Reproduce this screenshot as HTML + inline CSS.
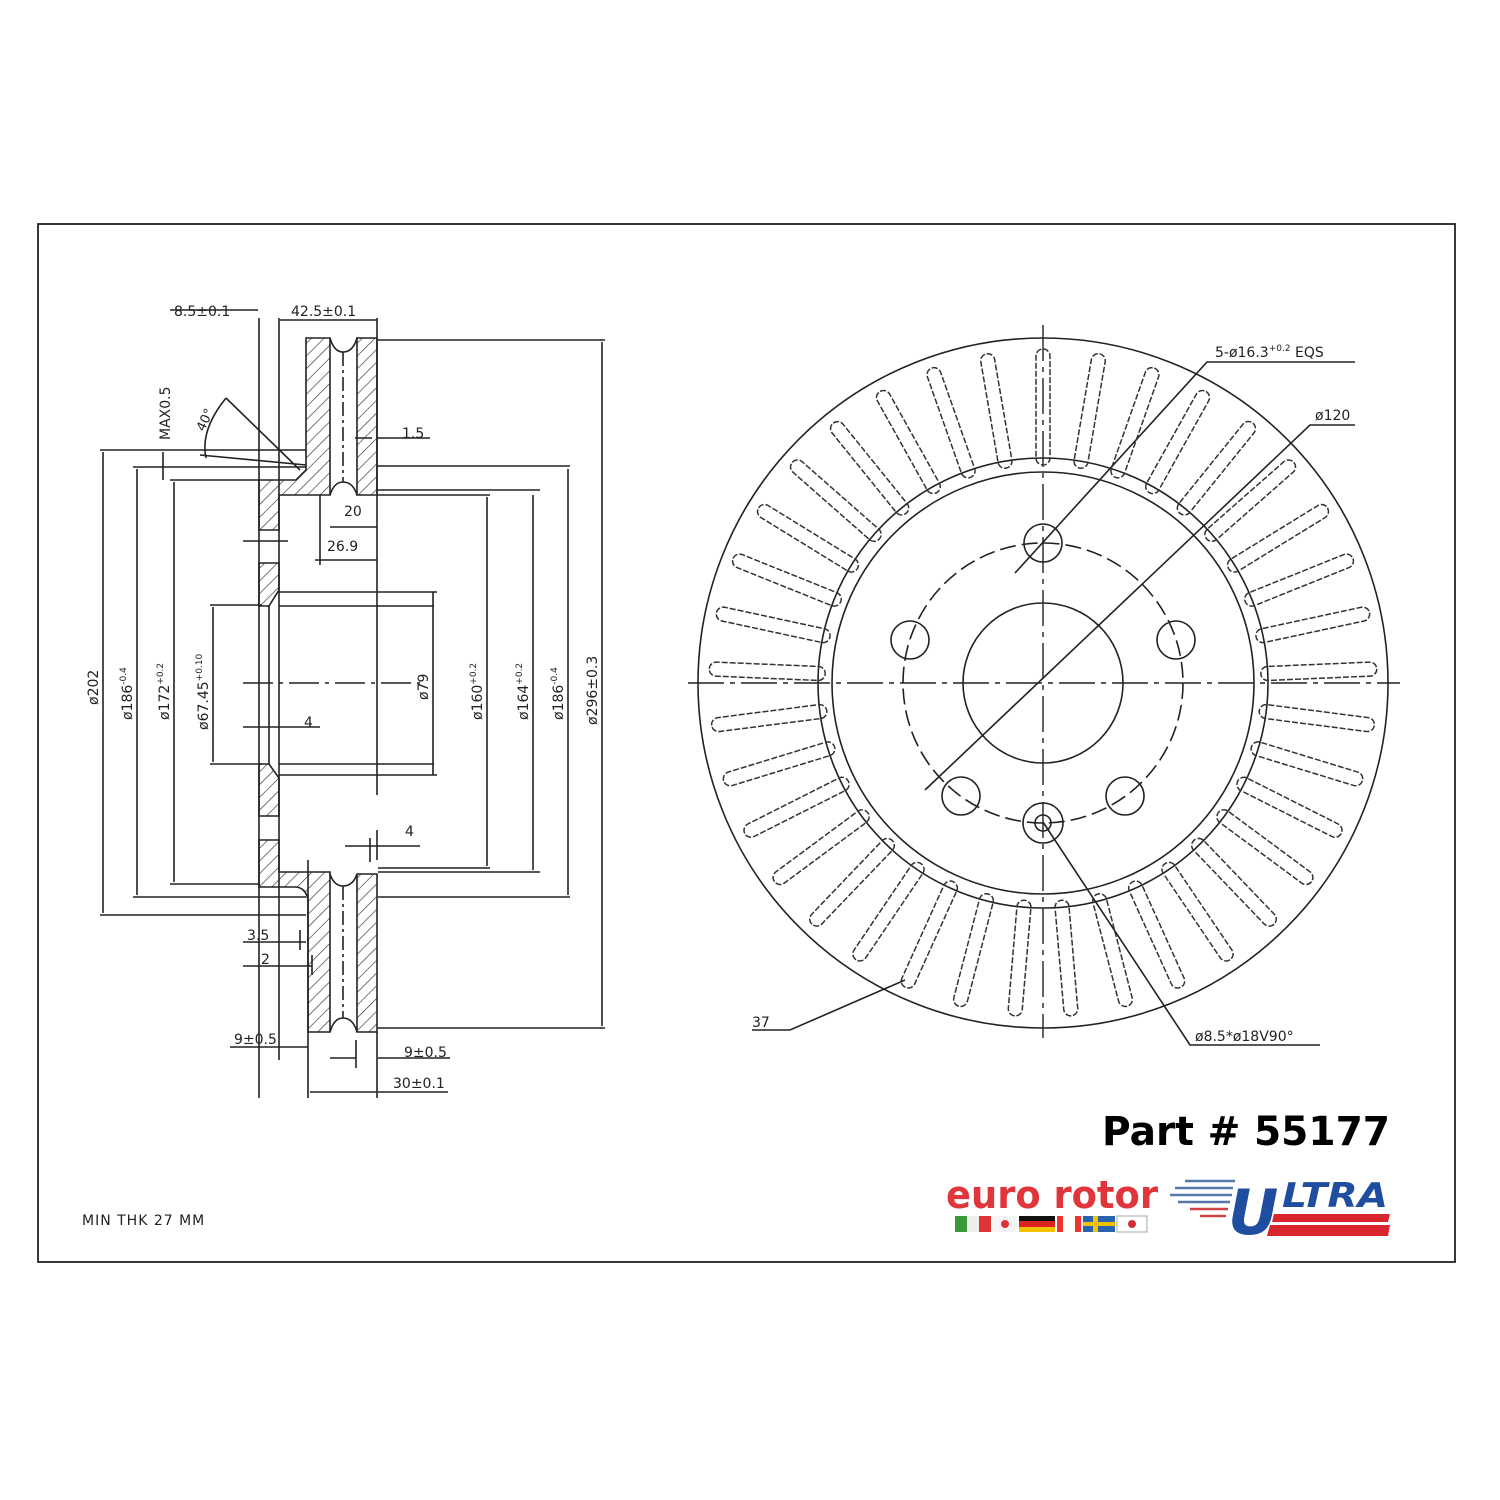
<!DOCTYPE html>
<html><head><meta charset="utf-8"><style>
html,body{margin:0;padding:0;background:#fff}
svg{display:block}
text{font-family:"DejaVu Sans","Liberation Sans",sans-serif;fill:#222}
</style></head><body>
<svg width="1500" height="1500" viewBox="0 0 1500 1500" xmlns="http://www.w3.org/2000/svg">
<defs>
<pattern id="h" patternUnits="userSpaceOnUse" width="9" height="9" patternTransform="rotate(45)">
<rect width="9" height="9" fill="#fff"/><line x1="0" y1="0" x2="0" y2="9" stroke="#333" stroke-width="1.3"/>
</pattern>
<rect id="slot" x="-7" y="-334" width="14" height="116" rx="7" fill="none" stroke="#333" stroke-width="1.5" stroke-dasharray="6 2"/>
</defs>
<rect x="38" y="224" width="1417" height="1038" fill="none" stroke="#222" stroke-width="1.8"/>

<!-- LEFT SECTION -->
<g stroke="#222" stroke-width="1.6" fill="none">
<path d="M306,338 H330 V495 H279 V530 H259 V480 H296 L306,470 Z" fill="url(#h)"/>
<path d="M357,338 H377 V495 H357 Z" fill="url(#h)"/>
<path d="M259,563 H279 V590 L269,606 H259 Z" fill="url(#h)"/>
<path d="M259,764 H269 L279,778 V816 H259 Z" fill="url(#h)"/>
<path d="M259,840 H279 V872 H330 V1032 H308 V900 Q306,888 296,887 H259 Z" fill="url(#h)"/>
<path d="M357,874 H377 V1032 H357 Z" fill="url(#h)"/>
<path d="M330,338 Q334,352 343,352 Q353,352 357,338"/>
<path d="M330,495 Q334,482 343,482 Q353,482 357,495"/>
<path d="M330,874 Q334,886 343,886 Q353,886 357,874"/>
<path d="M330,1032 Q334,1018 343,1018 Q353,1018 357,1032"/>
<path d="M343,352 V482 M343,886 V1018" stroke-dasharray="14 4 3 4"/>
<path d="M259,318 V1098 M279,318 V1060 M308,860 V1098 M377,318 V325 M377,1032 V1098 M269,606 V764"/>
<path d="M377,325 V795 M377,830 V860"/>
<path d="M279,606 H434 M279,764 H434 M433,592 V775"/>
<path d="M279,592 H437 M279,775 H437"/>
<path d="M100,450 H306 M133,467 H306 M170,480 H260 M210,605 H262 M210,764 H262 M133,897 H306 M100,915 H306 M170,884 H260"/>
<path d="M103,452 V913 M137,469 V895 M174,482 V882 M213,607 V762"/>
<path d="M378,340 H605 M378,466 H570 M378,490 H540 M378,495 H490 M378,868 H490 M378,872 H540 M378,897 H570 M378,1028 H605"/>
<path d="M487,497 V866 M533,495 V870 M568,469 V895 M602,342 V1026"/>
<path d="M170,310 H258 M280,320 H377"/>
<path d="M163,452 V480 M200,455 L306,465 M226,398 Q200,430 206,458 M226,398 L300,470"/>
<path d="M378,438 H430 M355,438 H372"/>
<path d="M330,527 H377 M315,560 H377 M320,495 V565"/>
<path d="M243,541 H288 M243,727 H320 M345,846 H420 M370,838 V862"/>
<path d="M243,942 H306 M243,966 H312 M300,930 V950 M312,955 V975"/>
<path d="M230,1047 H308 M330,1058 H356 M378,1058 H450 M310,1092 H377 M378,1092 H448 M356,1040 V1068"/>
<path d="M243,683 H420" stroke-dasharray="30 6 4 6"/>
</g>
<g font-size="14">
<text x="174" y="316">8.5±0.1</text>
<text x="291" y="316">42.5±0.1</text>
<text x="402" y="438">1.5</text>
<text x="344" y="516">20</text>
<text x="327" y="551">26.9</text>
<text x="304" y="727">4</text>
<text x="405" y="836">4</text>
<text x="247" y="940">3.5</text>
<text x="261" y="964">2</text>
<text x="234" y="1044">9±0.5</text>
<text x="404" y="1057">9±0.5</text>
<text x="393" y="1088">30±0.1</text>
<text transform="translate(170,440) rotate(-90)">MAX0.5</text>
<text transform="translate(204,432) rotate(-65)" font-size="13">40°</text>
<text transform="translate(98,705) rotate(-90)">ø202</text>
<text transform="translate(132,720) rotate(-90)">ø186<tspan font-size="9" dy="-6">-0.4</tspan></text>
<text transform="translate(169,720) rotate(-90)">ø172<tspan font-size="9" dy="-6">+0.2</tspan></text>
<text transform="translate(208,730) rotate(-90)">ø67.45<tspan font-size="9" dy="-6">+0.10</tspan></text>
<text transform="translate(428,700) rotate(-90)">ø79</text>
<text transform="translate(482,720) rotate(-90)">ø160<tspan font-size="9" dy="-6">+0.2</tspan></text>
<text transform="translate(528,720) rotate(-90)">ø164<tspan font-size="9" dy="-6">+0.2</tspan></text>
<text transform="translate(563,720) rotate(-90)">ø186<tspan font-size="9" dy="-6">-0.4</tspan></text>
<text transform="translate(597,725) rotate(-90)">ø296±0.3</text>
<text x="82" y="1225" font-family="Liberation Mono,monospace" letter-spacing="1">MIN THK 27 MM</text>
</g>

<!-- RIGHT DISC -->
<g stroke="#222" stroke-width="1.6" fill="none">
<circle cx="1043" cy="683" r="345"/>
<circle cx="1043" cy="683" r="225"/>
<circle cx="1043" cy="683" r="211"/>
<circle cx="1043" cy="683" r="140" stroke-dasharray="16 6"/>
<circle cx="1043" cy="683" r="80"/>
<circle cx="1043" cy="543" r="19"/>
<circle cx="1176" cy="640" r="19"/>
<circle cx="1125" cy="796" r="19"/>
<circle cx="961" cy="796" r="19"/>
<circle cx="910" cy="640" r="19"/>
<circle cx="1043" cy="823" r="20"/>
<circle cx="1043" cy="823" r="8"/>
<path d="M688,683 H1400 M1043,325 V1038" stroke-dasharray="36 6 5 6" stroke-width="1.4"/>
<path d="M925,790 L1310,425 H1355"/>
<path d="M1015,573 L1207,362 H1355"/>
<path d="M1043,822 L1190,1045 H1320"/>
<path d="M905,980 L790,1030 H752"/>
</g>
<g transform="translate(1043,683)">
<use href="#slot" transform="rotate(0)"/><use href="#slot" transform="rotate(9.73)"/><use href="#slot" transform="rotate(19.46)"/><use href="#slot" transform="rotate(29.19)"/><use href="#slot" transform="rotate(38.92)"/><use href="#slot" transform="rotate(48.65)"/><use href="#slot" transform="rotate(58.38)"/><use href="#slot" transform="rotate(68.11)"/><use href="#slot" transform="rotate(77.84)"/><use href="#slot" transform="rotate(87.57)"/><use href="#slot" transform="rotate(97.3)"/><use href="#slot" transform="rotate(107.03)"/><use href="#slot" transform="rotate(116.76)"/><use href="#slot" transform="rotate(126.49)"/><use href="#slot" transform="rotate(136.22)"/><use href="#slot" transform="rotate(145.95)"/><use href="#slot" transform="rotate(155.68)"/><use href="#slot" transform="rotate(165.41)"/><use href="#slot" transform="rotate(175.14)"/><use href="#slot" transform="rotate(184.86)"/><use href="#slot" transform="rotate(194.59)"/><use href="#slot" transform="rotate(204.32)"/><use href="#slot" transform="rotate(214.05)"/><use href="#slot" transform="rotate(223.78)"/><use href="#slot" transform="rotate(233.51)"/><use href="#slot" transform="rotate(243.24)"/><use href="#slot" transform="rotate(252.97)"/><use href="#slot" transform="rotate(262.7)"/><use href="#slot" transform="rotate(272.43)"/><use href="#slot" transform="rotate(282.16)"/><use href="#slot" transform="rotate(291.89)"/><use href="#slot" transform="rotate(301.62)"/><use href="#slot" transform="rotate(311.35)"/><use href="#slot" transform="rotate(321.08)"/><use href="#slot" transform="rotate(330.81)"/><use href="#slot" transform="rotate(340.54)"/><use href="#slot" transform="rotate(350.27)"/>
</g>
<g font-size="14">
<text x="1215" y="357">5-ø16.3<tspan font-size="9" dy="-6">+0.2</tspan><tspan dy="6"> EQS</tspan></text>
<text x="1315" y="420">ø120</text>
<text x="1195" y="1041">ø8.5*ø18V90°</text>
<text x="752" y="1027">37</text>
</g>

<!-- LOGO -->
<text x="1102" y="1145" font-family="Liberation Sans,sans-serif" font-weight="bold" font-size="40" style="fill:#000" textLength="288" lengthAdjust="spacingAndGlyphs">Part # 55177</text>
<text x="946" y="1208" font-family="Liberation Sans,sans-serif" font-weight="bold" font-size="38" style="fill:#e0353b" textLength="212" lengthAdjust="spacingAndGlyphs">euro rotor</text>
<g>
<rect x="955" y="1216" width="12" height="16" fill="#3a9a3a"/><rect x="967" y="1216" width="12" height="16" fill="#eee"/><rect x="979" y="1216" width="12" height="16" fill="#d33"/>
<rect x="993" y="1216" width="24" height="16" fill="#f4f4f4"/><circle cx="1005" cy="1224" r="4" fill="#d33"/>
<rect x="1019" y="1216" width="36" height="5" fill="#111"/><rect x="1019" y="1221" width="36" height="6" fill="#d22"/><rect x="1019" y="1227" width="36" height="5" fill="#f2c200"/>
<rect x="1057" y="1216" width="24" height="16" fill="#e33"/><rect x="1063" y="1216" width="12" height="16" fill="#fff"/>
<rect x="1083" y="1216" width="32" height="16" fill="#2a64b0"/><rect x="1093" y="1216" width="5" height="16" fill="#f2c200"/><rect x="1083" y="1222" width="32" height="4" fill="#f2c200"/>
<rect x="1117" y="1216" width="30" height="16" fill="#fff" stroke="#aaa"/><circle cx="1132" cy="1224" r="4" fill="#c33"/>
</g>
<g stroke-width="2.5">
<line x1="1185" y1="1181" x2="1235" y2="1181" stroke="#5577aa"/><line x1="1175" y1="1188" x2="1233" y2="1188" stroke="#5577aa"/><line x1="1170" y1="1195" x2="1232" y2="1195" stroke="#5577aa"/><line x1="1178" y1="1202" x2="1230" y2="1202" stroke="#5577aa"/><line x1="1190" y1="1209" x2="1228" y2="1209" stroke="#c44"/><line x1="1200" y1="1216" x2="1226" y2="1216" stroke="#c44"/>
</g>
<text x="1228" y="1234" font-family="Liberation Sans,sans-serif" font-weight="bold" font-style="italic" font-size="62" style="fill:#1f4ea0">U</text>
<text x="1282" y="1207" font-family="Liberation Sans,sans-serif" font-weight="bold" font-style="italic" font-size="34" style="fill:#1f4ea0" textLength="106" lengthAdjust="spacingAndGlyphs">LTRA</text>
<polygon points="1274,1214 1390,1214 1388,1222 1272,1222" fill="#d9262e"/>
<polygon points="1270,1225 1390,1225 1388,1236 1267,1236" fill="#d9262e"/>
</svg>
</body></html>
